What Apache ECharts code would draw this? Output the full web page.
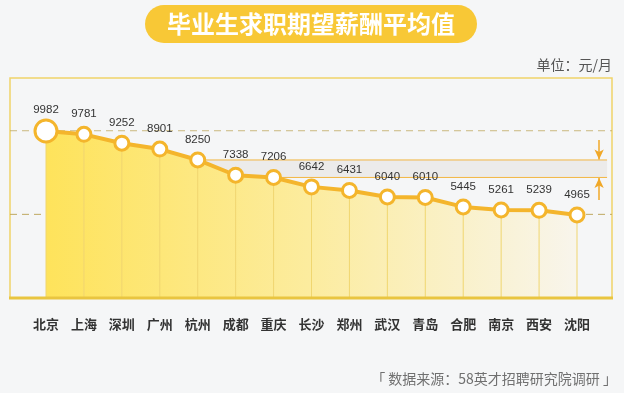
<!DOCTYPE html>
<html>
<head>
<meta charset="utf-8">
<script src="https://cdn.jsdelivr.net/npm/echarts@6/dist/echarts.min.js"></script>
<style>
html,body{margin:0;padding:0;background:#f5f6f7;}
#c{width:624px;height:393px;}
</style>
</head>
<body>
<div id="c"></div>
<script>
var cities = ['北京','上海','深圳','广州','杭州','成都','重庆','长沙','郑州','武汉','青岛','合肥','南京','西安','沈阳'];
var salaries = [9982,9781,9252,8901,8250,7338,7206,6642,6431,6040,6010,5445,5261,5239,4965];
var refLines = [10000, 5000];
var band = [7206, 8250];
var bandStartCity = 4;
var titleText = '毕业生求职期望薪酬平均值';
var unitText = '单位：元/月';
var sourceText = '「 数据来源：58英才招聘研究院调研 」';

var chart = echarts.init(document.getElementById('c'), null, {renderer:'canvas'});
var FONT = '"Noto Sans CJK SC","Noto Sans",sans-serif';
var gTop = 130.7, gBottom = 95;
var xMin2 = -0.95, xMax2 = 14.92, bandEnd = 14.79, arrowX = 14.58;

var lineData = salaries.map(function(v,i){
  return {
    value: v,
    symbolSize: i === 0 ? 22 : 14,
    label: {distance: i === 0 ? 3 : 6}
  };
});

var option = {
  backgroundColor: '#f5f6f7',
  animation: false,
  graphic: [
    {type:'rect', shape:{x:145,y:5,width:332,height:38,r:19}, style:{fill:'#f8c836'}, z:1},
    {type:'text', x:311, y:24, style:{text:titleText, fill:'#ffffff', font:'bold 24px ' + FONT, align:'center', verticalAlign:'middle'}, z:2},
    {type:'text', x:612, y:65, style:{text:unitText, fill:'#555555', font:'14px ' + FONT, align:'right', verticalAlign:'middle'}},
    {type:'text', x:617, y:379, style:{text:sourceText, fill:'#707070', font:'14px ' + FONT, align:'right', verticalAlign:'middle'}},
    {type:'rect', shape:{x:10,y:78,width:602,height:220}, style:{fill:'none', stroke:'#f0d36a', lineWidth:1.5}, z:0},
    {type:'line', shape:{x1:9,y1:298,x2:613,y2:298}, style:{stroke:'#e9c540', lineWidth:3}, z:50}
  ],
  grid: [
    {left:46, right:47, top:gTop, bottom:gBottom},
    {left:10, right:12, top:gTop, bottom:gBottom}
  ],
  xAxis: [
    {type:'category', gridIndex:0, data:cities, boundaryGap:false,
     axisLine:{show:false}, axisTick:{show:false}, splitLine:{show:false},
     axisLabel:{color:'#333', fontSize:13, fontWeight:'bold', fontFamily:FONT, margin:20, interval:0}},
    {type:'value', gridIndex:1, min:xMin2, max:xMax2, show:false}
  ],
  yAxis: [
    {type:'value', gridIndex:0, min:0, max:10000, show:false},
    {type:'value', gridIndex:1, min:0, max:10000, show:false}
  ],
  series: [
    {type:'line', xAxisIndex:1, yAxisIndex:1, data:[[xMin2, refLines[0]],[xMax2, refLines[0]]],
     symbol:'none', lineStyle:{color:'#bfa860', width:1, type:[7,5]}, z:1, silent:true},
    {type:'line', xAxisIndex:1, yAxisIndex:1, data:[[xMin2, refLines[1]],[xMax2, refLines[1]]],
     symbol:'none', lineStyle:{color:'#bfa860', width:1, type:[7,5]}, z:1, silent:true,
     markArea:{silent:true, itemStyle:{color:'#ecebea', borderWidth:0}, data:[[{coord:[bandStartCity, band[1]]},{coord:[bandEnd, band[0]]}]]}},
    {type:'line', xAxisIndex:1, yAxisIndex:1, data:[[bandStartCity, band[1]],[bandEnd, band[1]]],
     symbol:'none', lineStyle:{color:'#f2b540', width:1}, z:2, silent:true},
    {type:'line', xAxisIndex:1, yAxisIndex:1, data:[[bandStartCity, band[0]],[bandEnd, band[0]]],
     symbol:'none', lineStyle:{color:'#f2b540', width:1}, z:2, silent:true,
     markLine:{silent:true, symbol:['none','arrow'], symbolSize:[7,10], label:{show:false},
       lineStyle:{color:'#f0a828', width:1.5, type:'solid'},
       data:[
         [{coord:[arrowX, 9450]},{coord:[arrowX, band[1]+30]}],
         [{coord:[arrowX, 5860]},{coord:[arrowX, band[0]-30]}]
       ]}},
    {type:'line', xAxisIndex:0, yAxisIndex:0, data:salaries, z:3, symbol:'none', silent:true,
     lineStyle:{width:0, opacity:0},
     areaStyle:{opacity:1, color:new echarts.graphic.LinearGradient(0,0,1,0,[
       {offset:0,color:'#fee35b'},{offset:0.5,color:'#fcec9f'},{offset:1,color:'#f8f5ec'}])}},
    {type:'bar', xAxisIndex:0, yAxisIndex:0, data:salaries, barWidth:1,
     itemStyle:{color:'#f0d670'}, z:4, silent:true},
    {type:'line', xAxisIndex:0, yAxisIndex:0, data:lineData, z:5,
     symbol:'circle',
     itemStyle:{color:'#ffffff', borderColor:'#f4b52c', borderWidth:3},
     lineStyle:{color:'#f4b52c', width:4},
     label:{show:true, position:'top', color:'#333', fontSize:11.5, fontFamily:'"Liberation Sans",Arial,sans-serif'}}
  ]
};
chart.setOption(option);
</script>
</body>
</html>
